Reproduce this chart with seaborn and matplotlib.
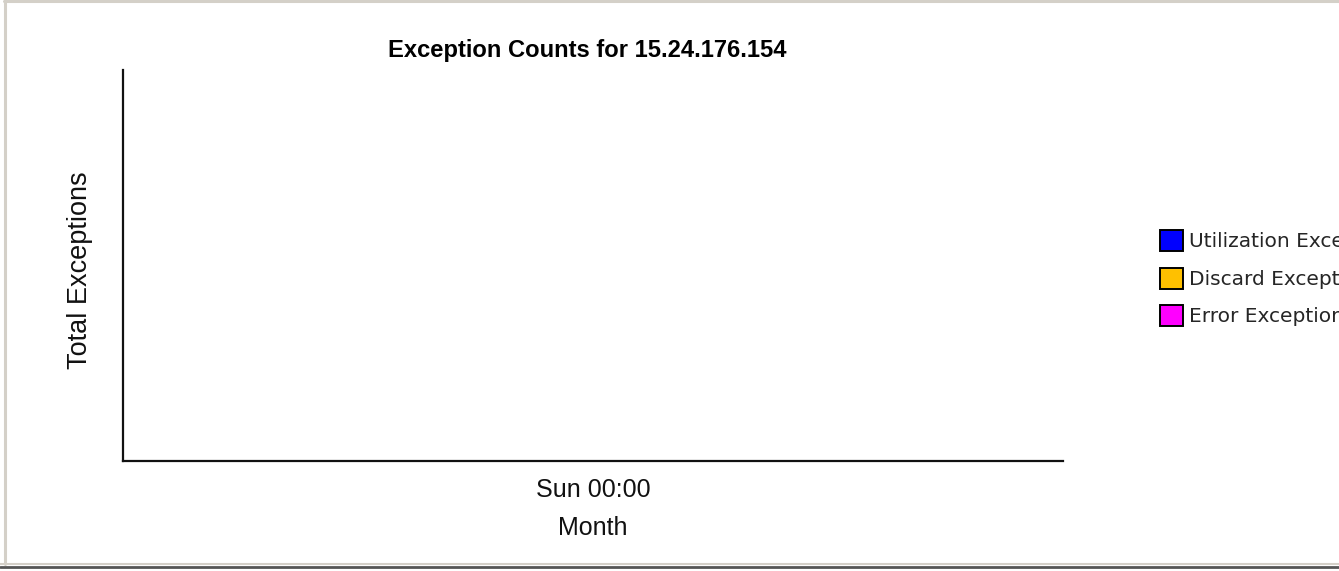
import matplotlib
matplotlib.use("Agg")
import matplotlib.pyplot as plt
from matplotlib.lines import Line2D
from matplotlib.patches import Patch
import pandas as pd
import seaborn as sns

# Chart content
title = "Exception Counts for 15.24.176.154"
x_label = "Month"
y_label = "Total Exceptions"
categories = ["Sun 00:00"]
series_names = ["Utilization Exceptions", "Discard Exceptions", "Error Exceptions"]
series_colors = ["#0000ff", "#ffc000", "#ff00ff"]
# No exceptions were recorded in the period, so every series is empty
utilization_counts = []
discard_counts = []
error_counts = []

sns.set_theme(style="white")
plt.rcParams["font.family"] = ["Liberation Sans", "DejaVu Sans"]

W, H = 1339, 571
fig = plt.figure(figsize=(W / 100, H / 100), dpi=100)
fig.patch.set_facecolor("white")

ax = fig.add_axes([123 / W, 1 - 461 / H, (1063 - 123) / W, (461 - 70) / H])

frames = []
for name, vals in zip(series_names, [utilization_counts, discard_counts, error_counts]):
    if len(vals):
        frames.append(pd.DataFrame({"period": categories[:len(vals)], "count": vals, "series": name}))

if frames:
    df = pd.concat(frames, ignore_index=True)
    sns.barplot(data=df, x="period", y="count", hue="series",
                palette=dict(zip(series_names, series_colors)), ax=ax, legend=False)

ax.set_xlim(-0.5, len(categories) - 0.5)
ax.set_ylim(0, 1)
ax.set_xticks(range(len(categories)))
ax.set_xticklabels(categories, fontsize=18, color="#111111")
ax.set_yticks([])
ax.tick_params(axis="x", direction="inout", length=9, width=1.2, color="black", pad=8)
ax.set_xlabel(x_label, fontsize=18, color="#111111", labelpad=10)
ax.set_ylabel("")
for side in ["top", "right"]:
    ax.spines[side].set_visible(False)
for side in ["left", "bottom"]:
    ax.spines[side].set_color("#111111")
    ax.spines[side].set_linewidth(1.6)

fig.text(587 / W, 1 - 50 / H, title, ha="center", va="center",
         fontsize=17.1, fontweight="bold", color="black")
fig.text(80 / W, 1 - 270 / H, y_label, ha="center", va="center",
         rotation=90, fontsize=19.5, color="#111111")

# Legend sits near the right edge; long labels run past the figure border
handles = [Patch(facecolor=c, edgecolor="black", linewidth=1.4) for c in series_colors]
fig.legend(handles, series_names, loc="upper left",
           bbox_to_anchor=(1160 / W, 1 - 230 / H), frameon=False,
           prop={"family": "DejaVu Sans", "size": 14.5},
           handlelength=1.15, handleheight=1.25,
           handletextpad=0.3, labelspacing=0.8, borderaxespad=0, borderpad=0)

# Panel frame: light left and top edges, bevelled bottom edge
fig.add_artist(Line2D([5 / W, 5 / W], [0.012, 1], transform=fig.transFigure,
                      color="#d4d0c8", linewidth=2.2))
fig.add_artist(Line2D([4 / W, 1], [1 - 1 / H, 1 - 1 / H], transform=fig.transFigure,
                      color="#d4d0c8", linewidth=2.2))
fig.add_artist(Line2D([0, 1], [1 - 564 / H, 1 - 564 / H], transform=fig.transFigure,
                      color="#d4d0c8", linewidth=1.5))
fig.add_artist(Line2D([0, 1], [1 - 567 / H, 1 - 567 / H], transform=fig.transFigure,
                      color="#555555", linewidth=2.0))

fig.savefig("out.png", dpi=100, facecolor="white")
